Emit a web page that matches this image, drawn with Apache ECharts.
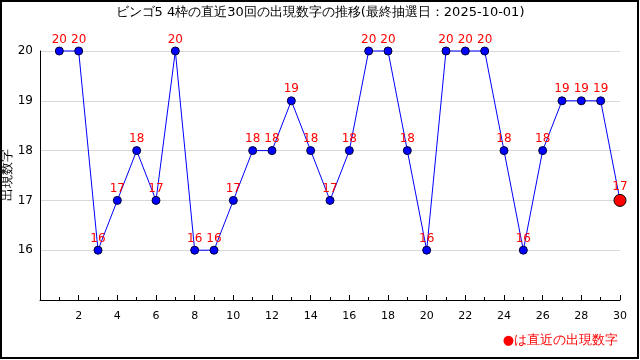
<!DOCTYPE html>
<html><head><meta charset="utf-8">
<script src="https://cdn.jsdelivr.net/npm/echarts@6/dist/echarts.min.js"></script>
<style>html,body{margin:0;padding:0;background:#fff}#c{width:640px;height:360px}</style>
</head><body><div id="c"></div>
<script>
var titleText = 'ビンゴ5 4枠の直近30回の出現数字の推移(最終抽選日：2025-10-01)';
var draws = [1,2,3,4,5,6,7,8,9,10,11,12,13,14,15,16,17,18,19,20,21,22,23,24,25,26,27,28,29,30];
var numbers = [20,20,16,17,18,17,20,16,16,17,18,18,19,18,17,18,20,20,18,16,20,20,20,18,16,18,19,19,19,17];
var yTicks = [16,17,18,19,20];
var yName = '出現数字';
var noteText = '●は直近の出現数字';

var font = '"DejaVu Sans", sans-serif';
var data = draws.map(function(d,i){
  var last = i === draws.length-1;
  return {value:[d, numbers[i]],
    symbolSize: last ? 12 : 8,
    itemStyle: last ? {color:'#ff0000', borderColor:'#000', borderWidth:1} : {color:'#0000ff', borderColor:'#000033', borderWidth:1}};
});
var chart = echarts.init(document.getElementById('c'), null, {renderer:'canvas'});
chart.setOption({
  animation:false,
  backgroundColor:'#fff',
  title:{text:titleText, left:'center', top:1, textStyle:{fontFamily:font, fontSize:13, fontWeight:'normal', color:'#000'}},
  grid:{left:40, right:20, top:51, bottom:60, containLabel:false, outerBoundsMode:'none'},
  xAxis:{type:'value', min:0, max:30, interval:2,
    axisLine:{lineStyle:{color:'#000', width:1}},
    axisTick:{inside:true, length:5, lineStyle:{color:'#000'}},
    minorTick:{show:true, splitNumber:2, length:3, lineStyle:{color:'#000'}},
    splitLine:{show:false},
    axisLabel:{showMinLabel:false, color:'#000', fontFamily:font, fontSize:11, margin:11,
      formatter:function(v){return v===0?'':String(v);}}},
  yAxis:{type:'value', min:15, max:20, interval:1,
    axisLine:{show:true, lineStyle:{color:'#000'}},
    axisTick:{show:false},
    splitLine:{show:true, lineStyle:{color:'#d8d8d8'}},
    axisLabel:{color:'#000', fontFamily:font, fontSize:12, margin:7,
      formatter:function(v){return yTicks.indexOf(v)>=0?String(v):'';}}},
  series:[{type:'line', data:data, symbol:'circle', clip:false,
    lineStyle:{color:'#0000ff', width:1},
    label:{show:true, position:'top', distance:1, color:'#ff0000', fontFamily:font, fontSize:12,
      formatter:function(p){return p.value[1];}}}],
  graphic:[
    {type:'rect', shape:{x:1, y:1, width:637, height:357}, style:{fill:null, stroke:'#000', lineWidth:2}, silent:true},
    {type:'text', x:8, y:175, rotation:Math.PI/2, style:{text:yName, fill:'#000', font:'13px '+font, align:'center', verticalAlign:'middle'}},
    {type:'text', right:22, top:334, style:{text:noteText, fill:'#ff0000', font:'13px '+font}}
  ]
});
</script></body></html>
